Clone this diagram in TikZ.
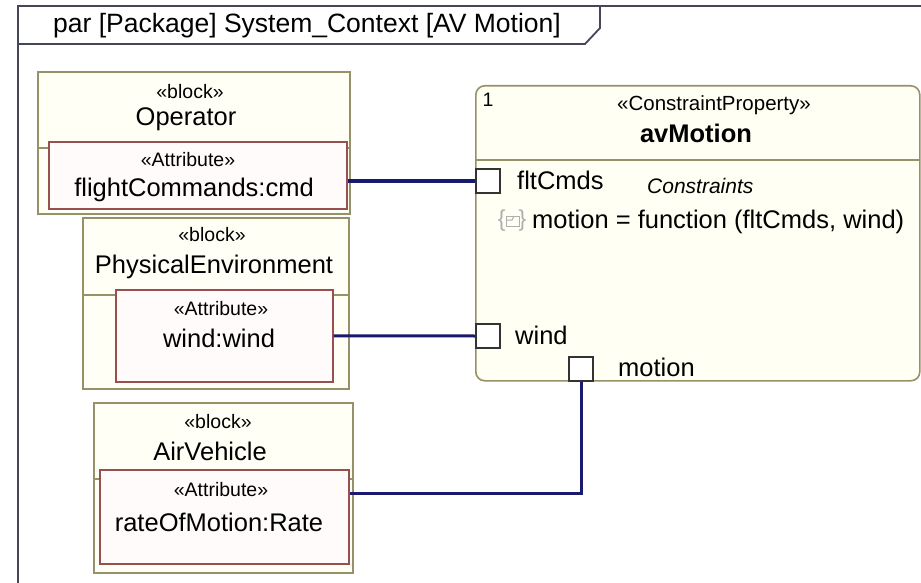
\documentclass[tikz,border=0pt]{standalone}
\usepackage{fontspec}
\setmainfont{Liberation Sans}
\usetikzlibrary{calc}
\definecolor{framec}{RGB}{70,70,90}
\definecolor{blockc}{RGB}{150,145,105}
\definecolor{blockfill}{RGB}{255,255,246}
\definecolor{attrc}{RGB}{150,80,80}
\definecolor{attrfill}{RGB}{255,251,251}
\definecolor{cpfill}{RGB}{255,255,244}
\definecolor{navyc}{RGB}{25,25,110}
\definecolor{iconc}{RGB}{175,175,175}
\begin{document}
\begin{tikzpicture}[x=1pt,y=-1pt,
  blockbox/.style={draw=blockc, fill=blockfill, line width=1.6pt, inner sep=0pt, anchor=north west},
  attrbox/.style={draw=attrc, fill=attrfill, line width=1.6pt, inner sep=0pt, anchor=north west},
  cpbox/.style={draw=blockc, fill=cpfill, line width=1.6pt, inner sep=0pt, anchor=north west, rounded corners=9pt},
  portbox/.style={draw=black!80, fill=white, line width=1.6pt, minimum size=24pt, inner sep=0pt},
  conn/.style={draw=navyc, line width=3pt},
  compline/.style={draw=blockc, line width=1.4pt},
  ster/.style={font=\fontsize{19.5}{23}\selectfont, inner sep=0pt},
  lbl/.style={font=\fontsize{25.5}{30}\selectfont, inner sep=0pt},
  ttl/.style={font=\fontsize{26.5}{30}\selectfont, inner sep=0pt}]
\useasboundingbox (0,0) rectangle (921,583);
\fill[white] (0,0) rectangle (921,583);
\clip (0,0) rectangle (921,583);
% frame
\draw[framec, line width=1.8pt] (18,600) -- (18,6) -- (940,6);
\draw[framec, line width=1.8pt] (18,44) -- (585,44) -- (600,28) -- (600,6);
\node[ttl] (title) at (307,26) {par [Package] System\_Context [AV Motion]};
% Operator
\node[blockbox, minimum width=312pt, minimum height=142pt] (op) at (37,71) {};
\draw[compline] (37,148) -- (349,148);
\node[attrbox, minimum width=298pt, minimum height=67pt] (opattr) at (48,141) {};
\node[ster] (opster) at (190,92) {«block»};
\node[lbl] (opname) at (186,119) {Operator};
\node[ster] (opattrster) at (188,160) {«Attribute»};
\node[lbl] (opattrname) at (194,190) {flightCommands:cmd};
% PhysicalEnvironment
\node[blockbox, minimum width=266pt, minimum height=171pt] (pe) at (82,217) {};
\draw[compline] (82,295) -- (348,295);
\node[attrbox, minimum width=217pt, minimum height=92pt] (peattr) at (115,289) {};
\node[ster] (pester) at (212,235) {«block»};
\node[lbl] (pename) at (214,267) {PhysicalEnvironment};
\node[ster] (peattrster) at (221,309) {«Attribute»};
\node[lbl] (peattrname) at (219,338) {wind:wind};
% AirVehicle
\node[blockbox, minimum width=259pt, minimum height=170pt] (av) at (93,402) {};
\draw[compline] (93,479) -- (352,479);
\node[attrbox, minimum width=249pt, minimum height=94pt] (avattr) at (99,469) {};
\node[ster] (avster) at (218,422) {«block»};
\node[lbl] (avname) at (210,451) {AirVehicle};
\node[ster] (avattrster) at (221,490) {«Attribute»};
\node[lbl] (avattrname) at (219,522) {rateOfMotion:Rate};
% Constraint property
\node[cpbox, minimum width=444pt, minimum height=295pt] (cp) at (475,85) {};
\draw[compline] (475,160) -- (919,160);
\node[ster] (cpnum) at (488,100) {1};
\node[ster, font=\fontsize{20.5}{24}\selectfont] (cpster) at (714,105) {«ConstraintProperty»};
\node[lbl, font=\fontsize{25.5}{30}\selectfont\bfseries] (cpname) at (696,133) {avMotion};
\node[ster, font=\fontsize{21}{24}\selectfont\itshape, anchor=west] (cons) at (647,186) {Constraints};
\node[font=\fontsize{23}{26}\selectfont, text=iconc, inner sep=0pt] (icon) at (512,221) {\{\hspace{13pt}\}};
\draw[iconc, line width=1pt] ($(icon.center)+(-6,-5)$) rectangle ($(icon.center)+(7,5)$);
\draw[iconc, line width=1pt] ($(icon.center)+(-6,-1)$) -- ($(icon.center)+(0,-1)$) -- ($(icon.center)+(2,-5)$);
\node[lbl, anchor=west] (formula) at (532,222) {motion = function (fltCmds, wind)};
% ports
\node[portbox] (pflt) at (488,181) {};
\node[lbl, anchor=west] (pfltl) at (517,180) {fltCmds};
\node[portbox] (pwind) at (488,336) {};
\node[lbl, anchor=west] (pwindl) at (515,335) {wind};
\node[portbox] (pmot) at (581,369) {};
\node[lbl, anchor=west] (pmotl) at (618,367) {motion};
% connectors
\coordinate (bend) at (582,493);
\draw[conn, line width=3.5pt] (pflt.west -| opattr.east) -- (pflt.west);
\draw[conn] (peattr.east) -- (pwind.west);
\draw[conn] (pmot.south) -- (pmot.south |- bend) -- (bend -| avattr.east);
\end{tikzpicture}
\end{document}
